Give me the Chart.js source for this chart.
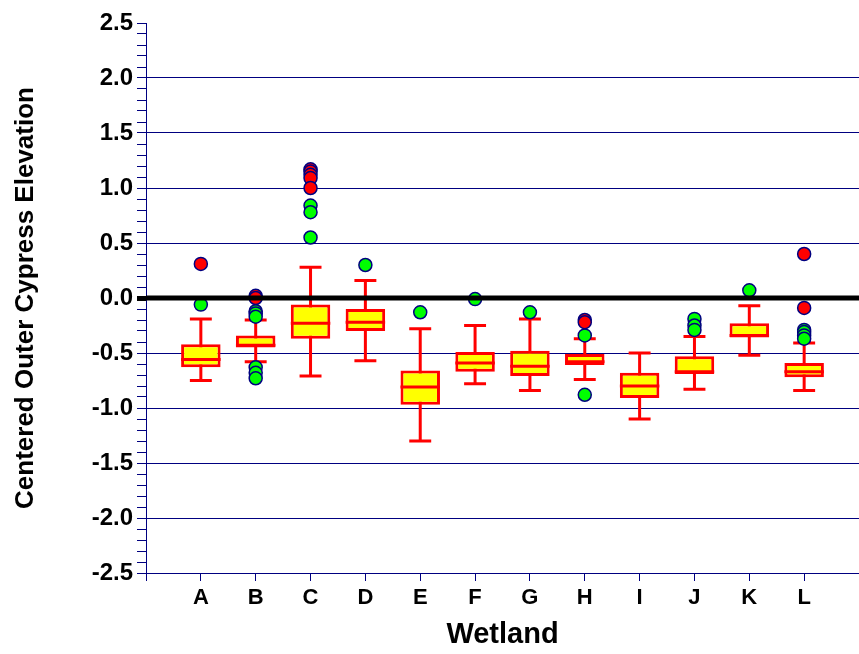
<!DOCTYPE html>
<html>
<head>
<meta charset="utf-8">
<title>Centered Outer Cypress Elevation by Wetland</title>
<script src="https://cdn.jsdelivr.net/npm/chart.js@4/dist/chart.umd.min.js"></script>
<style>
  html, body { margin: 0; padding: 0; background: #fff; }
  #wrap { width: 859px; height: 654px; }
</style>
</head>
<body>
<div id="wrap"><canvas id="boxChart" width="859" height="654"></canvas></div>
<script>
const wetlands = ['A', 'B', 'C', 'D', 'E', 'F', 'G', 'H', 'I', 'J', 'K', 'L'];

// five-number summaries per wetland
const lowerWhisker  = [-0.75, -0.58, -0.71, -0.57, -1.30, -0.78, -0.84, -0.74, -1.10, -0.83, -0.52, -0.84];
const lowerQuartile = [-0.63, -0.45, -0.37, -0.30, -0.97, -0.67, -0.71, -0.61, -0.91, -0.69, -0.36, -0.72];
const medians       = [-0.56, -0.43, -0.23, -0.22, -0.81, -0.59, -0.62, -0.58, -0.80, -0.67, -0.34, -0.67];
const upperQuartile = [-0.42, -0.34, -0.06, -0.10, -0.66, -0.49, -0.48, -0.51, -0.68, -0.53, -0.23, -0.59];
const upperWhisker  = [-0.19, -0.20, 0.28, 0.16, -0.28, -0.25, -0.19, -0.37, -0.50, -0.35, -0.07, -0.41];

// points beyond 3 IQR (red) and between 1.5 and 3 IQR (green)
const extremeOutliers = [
  [0.31], [0.02, 0.00], [1.17, 1.15, 1.12, 1.09, 1.00], [], [], [], [],
  [-0.20, -0.22], [], [], [], [0.40, -0.09]
];
const mildOutliers = [
  [-0.06], [-0.12, -0.14, -0.17, -0.63, -0.68, -0.73], [0.84, 0.78, 0.55], [0.30],
  [-0.13], [-0.01], [-0.13], [-0.34, -0.88], [], [-0.19, -0.25, -0.29], [0.07],
  [-0.29, -0.31, -0.34, -0.37]
];

const yTickLabels = ['2.5', '2.0', '1.5', '1.0', '0.5', '0.0', '-0.5', '-1.0', '-1.5', '-2.0', '-2.5'];
const yMajor = yTickLabels.map(Number);

const NAVY = '#000080';
const BOX_HALF = 0.36;
const CAP_HALF = 0.2;

function majorIndex(v) {
  return yMajor.findIndex(m => Math.abs(m - v) < 1e-6);
}

const boxData = wetlands.map((w, i) => ({ x: i + 1, y: [lowerQuartile[i], upperQuartile[i]] }));

const whiskerData = wetlands.flatMap((w, i) => {
  const x = i + 1;
  return [
    { x, y: lowerWhisker[i] }, { x, y: upperWhisker[i] }, { x, y: null },
    { x: x - CAP_HALF, y: lowerWhisker[i] }, { x: x + CAP_HALF, y: lowerWhisker[i] }, { x, y: null },
    { x: x - CAP_HALF, y: upperWhisker[i] }, { x: x + CAP_HALF, y: upperWhisker[i] }, { x, y: null }
  ];
});

const medianData = wetlands.flatMap((w, i) => {
  const x = i + 1;
  return [{ x: x - BOX_HALF, y: medians[i] }, { x: x + BOX_HALF, y: medians[i] }, { x, y: null }];
});

const toPoints = list => list.flatMap((vals, i) => vals.map(v => ({ x: i + 1, y: v })));

const yTicks = [];
for (let k = -25; k <= 25; k++) yTicks.push(k / 10);

Chart.defaults.font.family = "'Liberation Sans', Arial, sans-serif";
Chart.defaults.font.weight = 'bold';
Chart.defaults.color = '#000';

new Chart(document.getElementById('boxChart'), {
  type: 'bar',
  data: {
    datasets: [{
      type: 'line',
      label: 'zero',
      data: [{ x: 0, y: 0 }, { x: 13, y: 0 }],
      borderColor: '#000',
      borderWidth: 5,
      pointRadius: 0,
      order: 0
    }, {
      type: 'scatter',
      label: 'Extreme',
      data: toPoints(extremeOutliers),
      backgroundColor: '#ff0000',
      borderColor: NAVY,
      borderWidth: 1.5,
      pointRadius: 6.5,
      order: 1
    }, {
      type: 'scatter',
      label: 'Mild',
      data: toPoints(mildOutliers),
      backgroundColor: '#00ff00',
      borderColor: NAVY,
      borderWidth: 1.5,
      pointRadius: 6.5,
      order: 2
    }, {
      type: 'line',
      label: 'Median',
      data: medianData,
      borderColor: '#ff0000',
      borderWidth: 3,
      pointRadius: 0,
      spanGaps: false,
      order: 3
    }, {
      label: 'IQR',
      data: boxData,
      backgroundColor: '#ffff00',
      borderColor: '#ff0000',
      borderWidth: 3,
      borderSkipped: false,
      order: 4
    }, {
      type: 'line',
      label: 'Whiskers',
      data: whiskerData,
      borderColor: '#ff0000',
      borderWidth: 3,
      pointRadius: 0,
      spanGaps: false,
      order: 5
    }]
  },
  options: {
    responsive: false,
    animation: false,
    layout: { autoPadding: false, padding: { top: 23, left: 0, right: 0, bottom: 0 } },
    plugins: {
      legend: { display: false },
      tooltip: { enabled: false }
    },
    scales: {
      x: {
        type: 'linear',
        min: 0,
        max: 13,
        offset: false,
        afterBuildTicks: s => { s.ticks = wetlands.map((w, i) => ({ value: i })).concat([{ value: 12 }]); },
        afterFit: s => { s.height = 81; },
        ticks: {
          autoSkip: false,
          maxRotation: 0,
          padding: 4,
          font: { size: 22, weight: 'bold' },
          callback: v => (v >= 1 ? wetlands[v - 1] : '')
        },
        grid: { offset: false, drawOnChartArea: false, tickColor: NAVY, tickLength: 8 },
        border: { color: NAVY, width: 1 },
        title: {
          display: true,
          text: 'Wetland',
          font: { size: 29, weight: 'bold' },
          padding: { top: 0, bottom: 2 }
        }
      },
      y: {
        min: -2.5,
        max: 2.5,
        afterBuildTicks: s => { s.ticks = yTicks.map(v => ({ value: v })); },
        afterFit: s => { s.width = 146; },
        ticks: {
          autoSkip: false,
          padding: 4,
          font: { size: 24, weight: 'bold' },
          callback: v => {
            const m = majorIndex(v);
            return m >= 0 ? yTickLabels[m] : '';
          }
        },
        grid: {
          tickLength: 9,
          color: ctx => {
            const v = ctx.tick.value;
            if (Math.abs(v) > 2.49 || Math.abs(v) < 1e-6) return 'transparent';
            return majorIndex(v) >= 0 ? NAVY : 'transparent';
          },
          lineWidth: 1,
          tickColor: ctx => (Math.abs(ctx.tick.value) < 1e-6 ? '#000' : NAVY),
          tickWidth: ctx => (Math.abs(ctx.tick.value) < 1e-6 ? 5 : 1)
        },
        border: { color: NAVY, width: 1 },
        title: {
          display: true,
          text: 'Centered Outer Cypress Elevation',
          font: { size: 26, weight: 'bold' },
          padding: { top: 10, bottom: 0 }
        }
      }
    }
  }
});
</script>
</body>
</html>
